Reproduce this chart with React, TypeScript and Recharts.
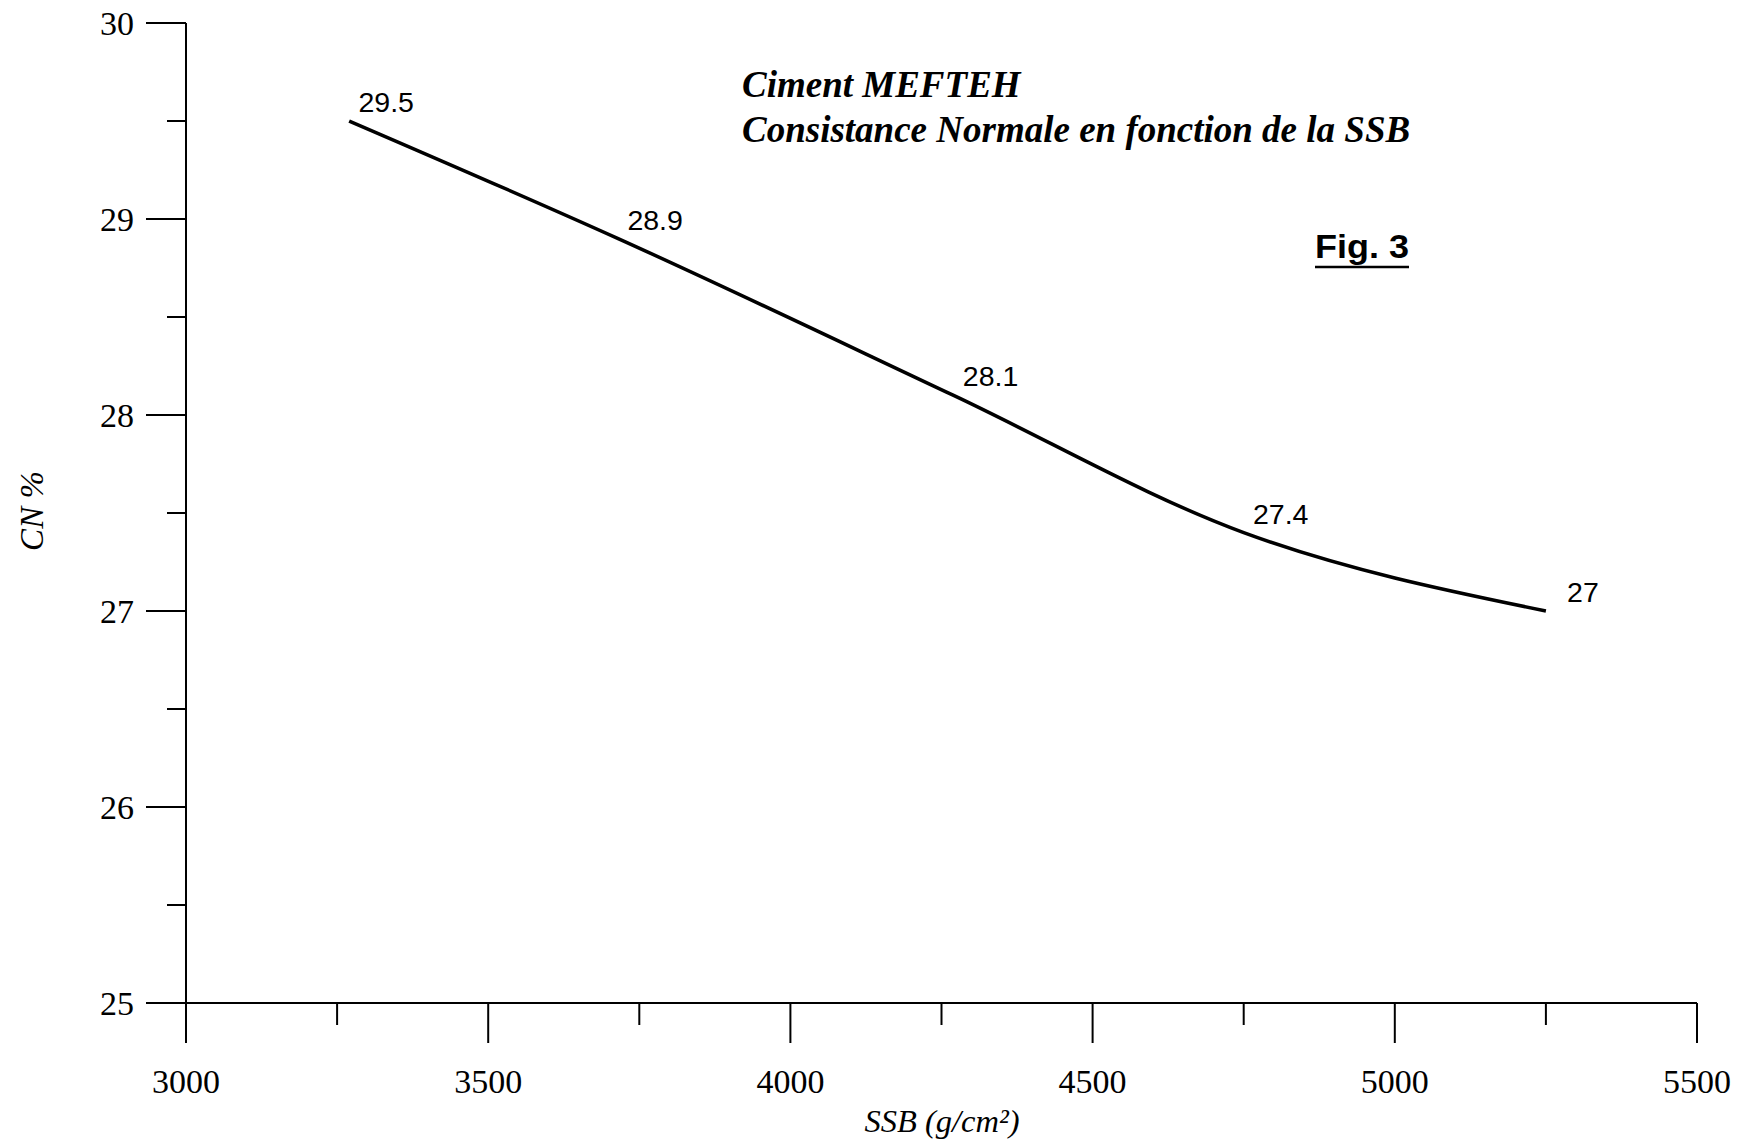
import React from 'react';
import { LineChart, Line, XAxis, YAxis, LabelList, Customized } from 'recharts';

// Specific surface (Blaine) in g/cm² and normal consistency in %
const ssbValues = [3270, 3715, 4270, 4750, 5250];
const cnValues = [29.5, 28.9, 28.1, 27.4, 27];

const xTicks = [3000, 3250, 3500, 3750, 4000, 4250, 4500, 4750, 5000, 5250, 5500];
const xLabelled = [3000, 3500, 4000, 4500, 5000, 5500];
const yTicks = [25, 25.5, 26, 26.5, 27, 27.5, 28, 28.5, 29, 29.5, 30];
const yLabelled = [25, 26, 27, 28, 29, 30];

const titleLines = ['Ciment MEFTEH', 'Consistance Normale en fonction de la SSB'];
const figLabel = 'Fig. 3';
const xTitle = 'SSB (g/cm²)';
const yTitle = 'CN %';

const data = ssbValues.map((s, i) => ({ ssb: s, cn: cnValues[i] }));

const SERIF = '"Liberation Serif", "Times New Roman", serif';
const SANS = '"Liberation Sans", Arial, sans-serif';

const XTick = (props: any) => {
  const { x, y, payload } = props;
  const major = xLabelled.includes(payload.value);
  return (
    <g>
      <line x1={x} y1={y} x2={x} y2={y + (major ? 40 : 22)} stroke="#000" strokeWidth={2} />
      {major && (
        <text x={x} y={y + 78} dy="0.35em" textAnchor="middle" fontFamily={SERIF} fontSize={34} fill="#000">
          {payload.value}
        </text>
      )}
    </g>
  );
};

const YTick = (props: any) => {
  const { x, y, payload } = props;
  const major = yLabelled.includes(payload.value);
  return (
    <g>
      <line x1={x - (major ? 40 : 19)} y1={y} x2={x} y2={y} stroke="#000" strokeWidth={2} />
      {major && (
        <text x={x - 52} y={y} dy="0.35em" textAnchor="end" fontFamily={SERIF} fontSize={34} fill="#000">
          {payload.value}
        </text>
      )}
    </g>
  );
};

const PointLabel = (props: any) => {
  const { x, y, value } = props;
  return (
    <text x={x + 37} y={y - 19} dy="0.35em" textAnchor="middle" fontFamily={SANS} fontSize={28.5} fill="#000">
      {value}
    </text>
  );
};

const Annotations = () => (
  <g>
    <text x={742} y={97} fontFamily={SERIF} fontSize={37} fontWeight="bold" fontStyle="italic" fill="#000">
      {titleLines[0]}
    </text>
    <text x={742} y={142} fontFamily={SERIF} fontSize={37} fontWeight="bold" fontStyle="italic" fill="#000">
      {titleLines[1]}
    </text>
    <text x={1315} y={258} fontFamily={SANS} fontSize={34} fontWeight="bold" fill="#000" textLength={94} lengthAdjust="spacingAndGlyphs">
      {figLabel}
    </text>
    <line x1={1315} y1={267} x2={1409} y2={267} stroke="#000" strokeWidth={2.5} />
    <text x={942} y={1132} textAnchor="middle" fontFamily={SERIF} fontSize={32.5} fontStyle="italic" fill="#000">
      {xTitle}
    </text>
    <text
      x={31}
      y={511}
      dy="0.35em"
      textAnchor="middle"
      transform="rotate(-90, 31, 511)"
      fontFamily={SERIF}
      fontSize={33}
      fontStyle="italic"
      fill="#000"
    >
      {yTitle}
    </text>
  </g>
);

export default function App() {
  return (
    <div style={{ position: 'absolute', left: 0, top: 0, background: '#fff' }}>
      <LineChart width={1742} height={1147} data={data} margin={{ top: 23, right: 45, bottom: 0, left: 1 }}>
        <XAxis
          type="number"
          dataKey="ssb"
          domain={[3000, 5500]}
          ticks={xTicks}
          interval={0}
          height={144}
          tickSize={0}
          tickMargin={0}
          tickLine={false}
          axisLine={{ stroke: '#000', strokeWidth: 2 }}
          tick={<XTick />}
          allowDataOverflow
        />
        <YAxis
          type="number"
          domain={[25, 30]}
          ticks={yTicks}
          interval={0}
          width={185}
          tickSize={0}
          tickMargin={0}
          tickLine={false}
          axisLine={{ stroke: '#000', strokeWidth: 2 }}
          tick={<YTick />}
          allowDataOverflow
        />
        <Line
          type="monotone"
          dataKey="cn"
          stroke="#000"
          strokeWidth={3.5}
          dot={false}
          activeDot={false}
          isAnimationActive={false}
        >
          <LabelList dataKey="cn" content={<PointLabel />} />
        </Line>
        <Customized component={<Annotations />} />
      </LineChart>
    </div>
  );
}
